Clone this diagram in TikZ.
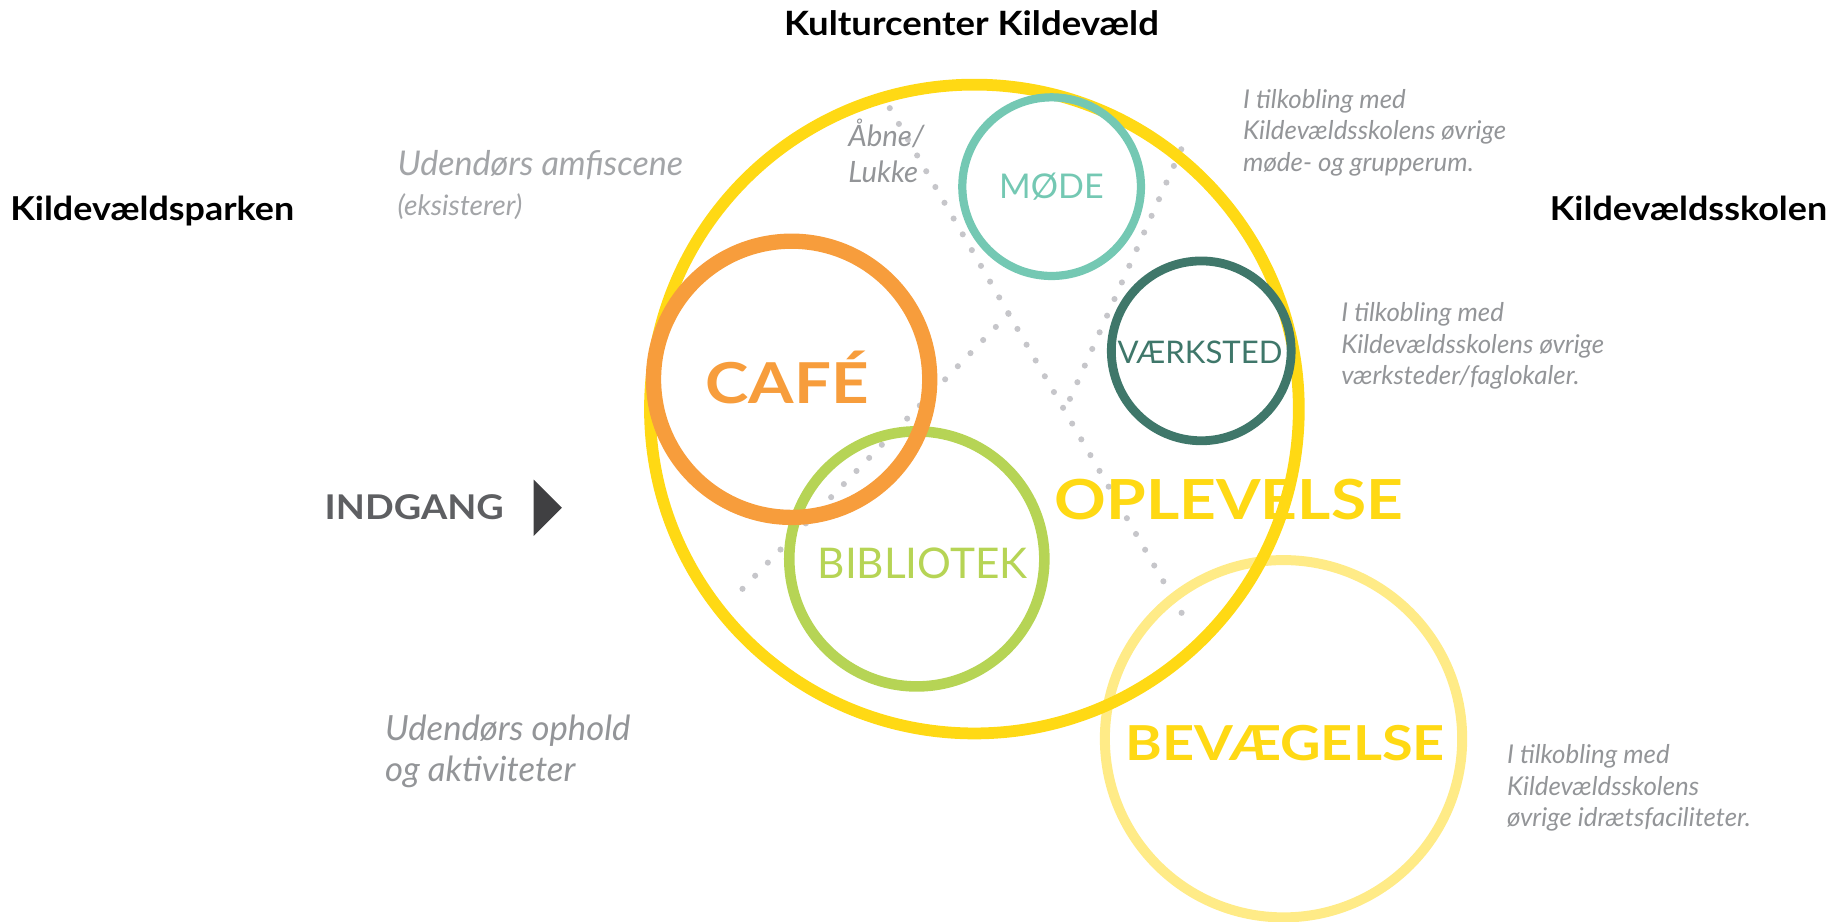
\documentclass[tikz,border=0pt]{standalone}
\usepackage{fontspec}
\setmainfont{Lato}
\newfontfamily\widefont[FakeStretch=1.16]{Lato}
\newfontfamily\headfont[FakeStretch=1.09]{Lato}
\newfontfamily\indfont[FakeStretch=1.11]{Lato}
\usetikzlibrary{shapes.geometric}
\definecolor{cyellow}{HTML}{FFD914}
\definecolor{clight}{HTML}{FFEB87}
\definecolor{corange}{HTML}{F79D3C}
\definecolor{cgreen}{HTML}{B6D455}
\definecolor{cteal}{HTML}{74C8B3}
\definecolor{cdark}{HTML}{3F776A}
\definecolor{cgray}{HTML}{939598}
\definecolor{cgraylt}{HTML}{A3A5A8}
\definecolor{cdot}{HTML}{C6C6CA}
\definecolor{cind}{HTML}{5E5F62}
\definecolor{ctri}{HTML}{404042}
\begin{document}
\begin{tikzpicture}[x=1pt,y=-1pt,
  ring/.style={circle, draw, inner sep=0pt},
  dotline/.style={draw=cdot, line width=5.2pt, line cap=round, dash pattern=on 0pt off 15.5pt},
  head/.style={font=\headfont\fontsize{28}{30}\selectfont\bfseries, text=black, inner sep=0pt, anchor=base},
  note/.style={font=\fontsize{22}{27}\selectfont\itshape, text=cgray, align=left, inner sep=0pt, anchor=base west},
  big/.style={inner sep=0pt, anchor=base},
  label/.style={inner sep=0pt, anchor=base}]
\useasboundingbox (0,0) rectangle (1568,784);
% dotted lines
\coordinate (l1a) at (757,92);
\coordinate (l1b) at (1012,533);
\coordinate (l2a) at (1005,127);
\coordinate (l2b) at (906,349);
\coordinate (l3a) at (858,267);
\coordinate (l3b) at (622,511);
\draw[dotline] (l1a) -- (l1b);
\draw[dotline] (l2a) -- (l2b);
\draw[dotline] (l3a) -- (l3b);
% circles
\node[ring, draw=clight, line width=8.5pt, minimum size=304pt] (bev) at (1092,628.5) {};
\node[ring, draw=cyellow, line width=10pt, minimum size=552pt] (opl) at (829,348) {};
\node[ring, draw=cgreen, line width=9pt, minimum size=217pt] (bib) at (780,475.5) {};
\node[ring, draw=corange, line width=13pt, minimum size=235pt] (cafe) at (673.5,322.7) {};
\node[ring, draw=cteal, line width=7pt, minimum size=152pt] (mode) at (894.7,158.8) {};
\node[ring, draw=cdark, line width=7.5pt, minimum size=153pt] (vaerk) at (1022,298.5) {};
% circle labels
\node[big, text=corange, font=\widefont\fontsize{48}{50}\selectfont\bfseries] (tcafe) at (669.5,343.7) {CAFÉ};
\node[label, text=cgreen, font=\fontsize{36}{38}\selectfont] (tbib) at (785,492) {BIBLIOTEK};
\node[label, text=cteal, font=\fontsize{29}{30}\selectfont] (tmode) at (894.5,169) {MØDE};
\node[label, text=cdark, font=\fontsize{26.5}{28}\selectfont] (tvaerk) at (1021,309) {VÆRKSTED};
\node[big, text=cyellow, font=\widefont\fontsize{47}{50}\selectfont\bfseries] (topl) at (1045.5,442) {OPLEVELSE};
\node[big, text=cyellow, font=\widefont\fontsize{41}{44}\selectfont\bfseries] (tbev) at (1093.5,647) {BEVÆGELSE};
% headings
\node[head, font=\headfont\fontsize{28.5}{30}\selectfont\bfseries] (hkul) at (826.5,30) {Kulturcenter Kildevæld};
\node[head] (hpark) at (129.5,188) {Kildevældsparken};
\node[head] (hskole) at (1436.5,188) {Kildevældsskolen};
% side texts
\node[note, text=cgraylt, font=\fontsize{29}{30}\selectfont\itshape] (amfi) at (338,149) {Udendørs amfiscene};
\node[note, text=cgraylt, font=\fontsize{24}{26}\selectfont\itshape] (eks) at (338,183) {(eksisterer)};
\node[note, font=\fontsize{25}{30}\selectfont\itshape] (aabne) at (721.5,155) {Åbne/\\Lukke};
\node[note] (n1) at (1057.5,146) {I tilkobling med\\Kildevældsskolens øvrige\\møde- og grupperum.};
\node[note] (n2) at (1141,327.5) {I tilkobling med\\Kildevældsskolens øvrige\\værksteder/faglokaler.};
\node[note] (n3) at (1282,703.5) {I tilkobling med\\Kildevældsskolens\\øvrige idrætsfaciliteter.};
\node[note, font=\fontsize{29.5}{35}\selectfont\itshape] (ophold) at (327.5,665) {Udendørs ophold\\og aktiviteter};
% entrance
\node[label, anchor=base west, text=cind, font=\indfont\fontsize{29}{30}\selectfont\bfseries] (indgang) at (276,442) {INDGANG};
\fill[ctri] (454,408) -- (478,432) -- (454,456) -- cycle;
\end{tikzpicture}
\end{document}
